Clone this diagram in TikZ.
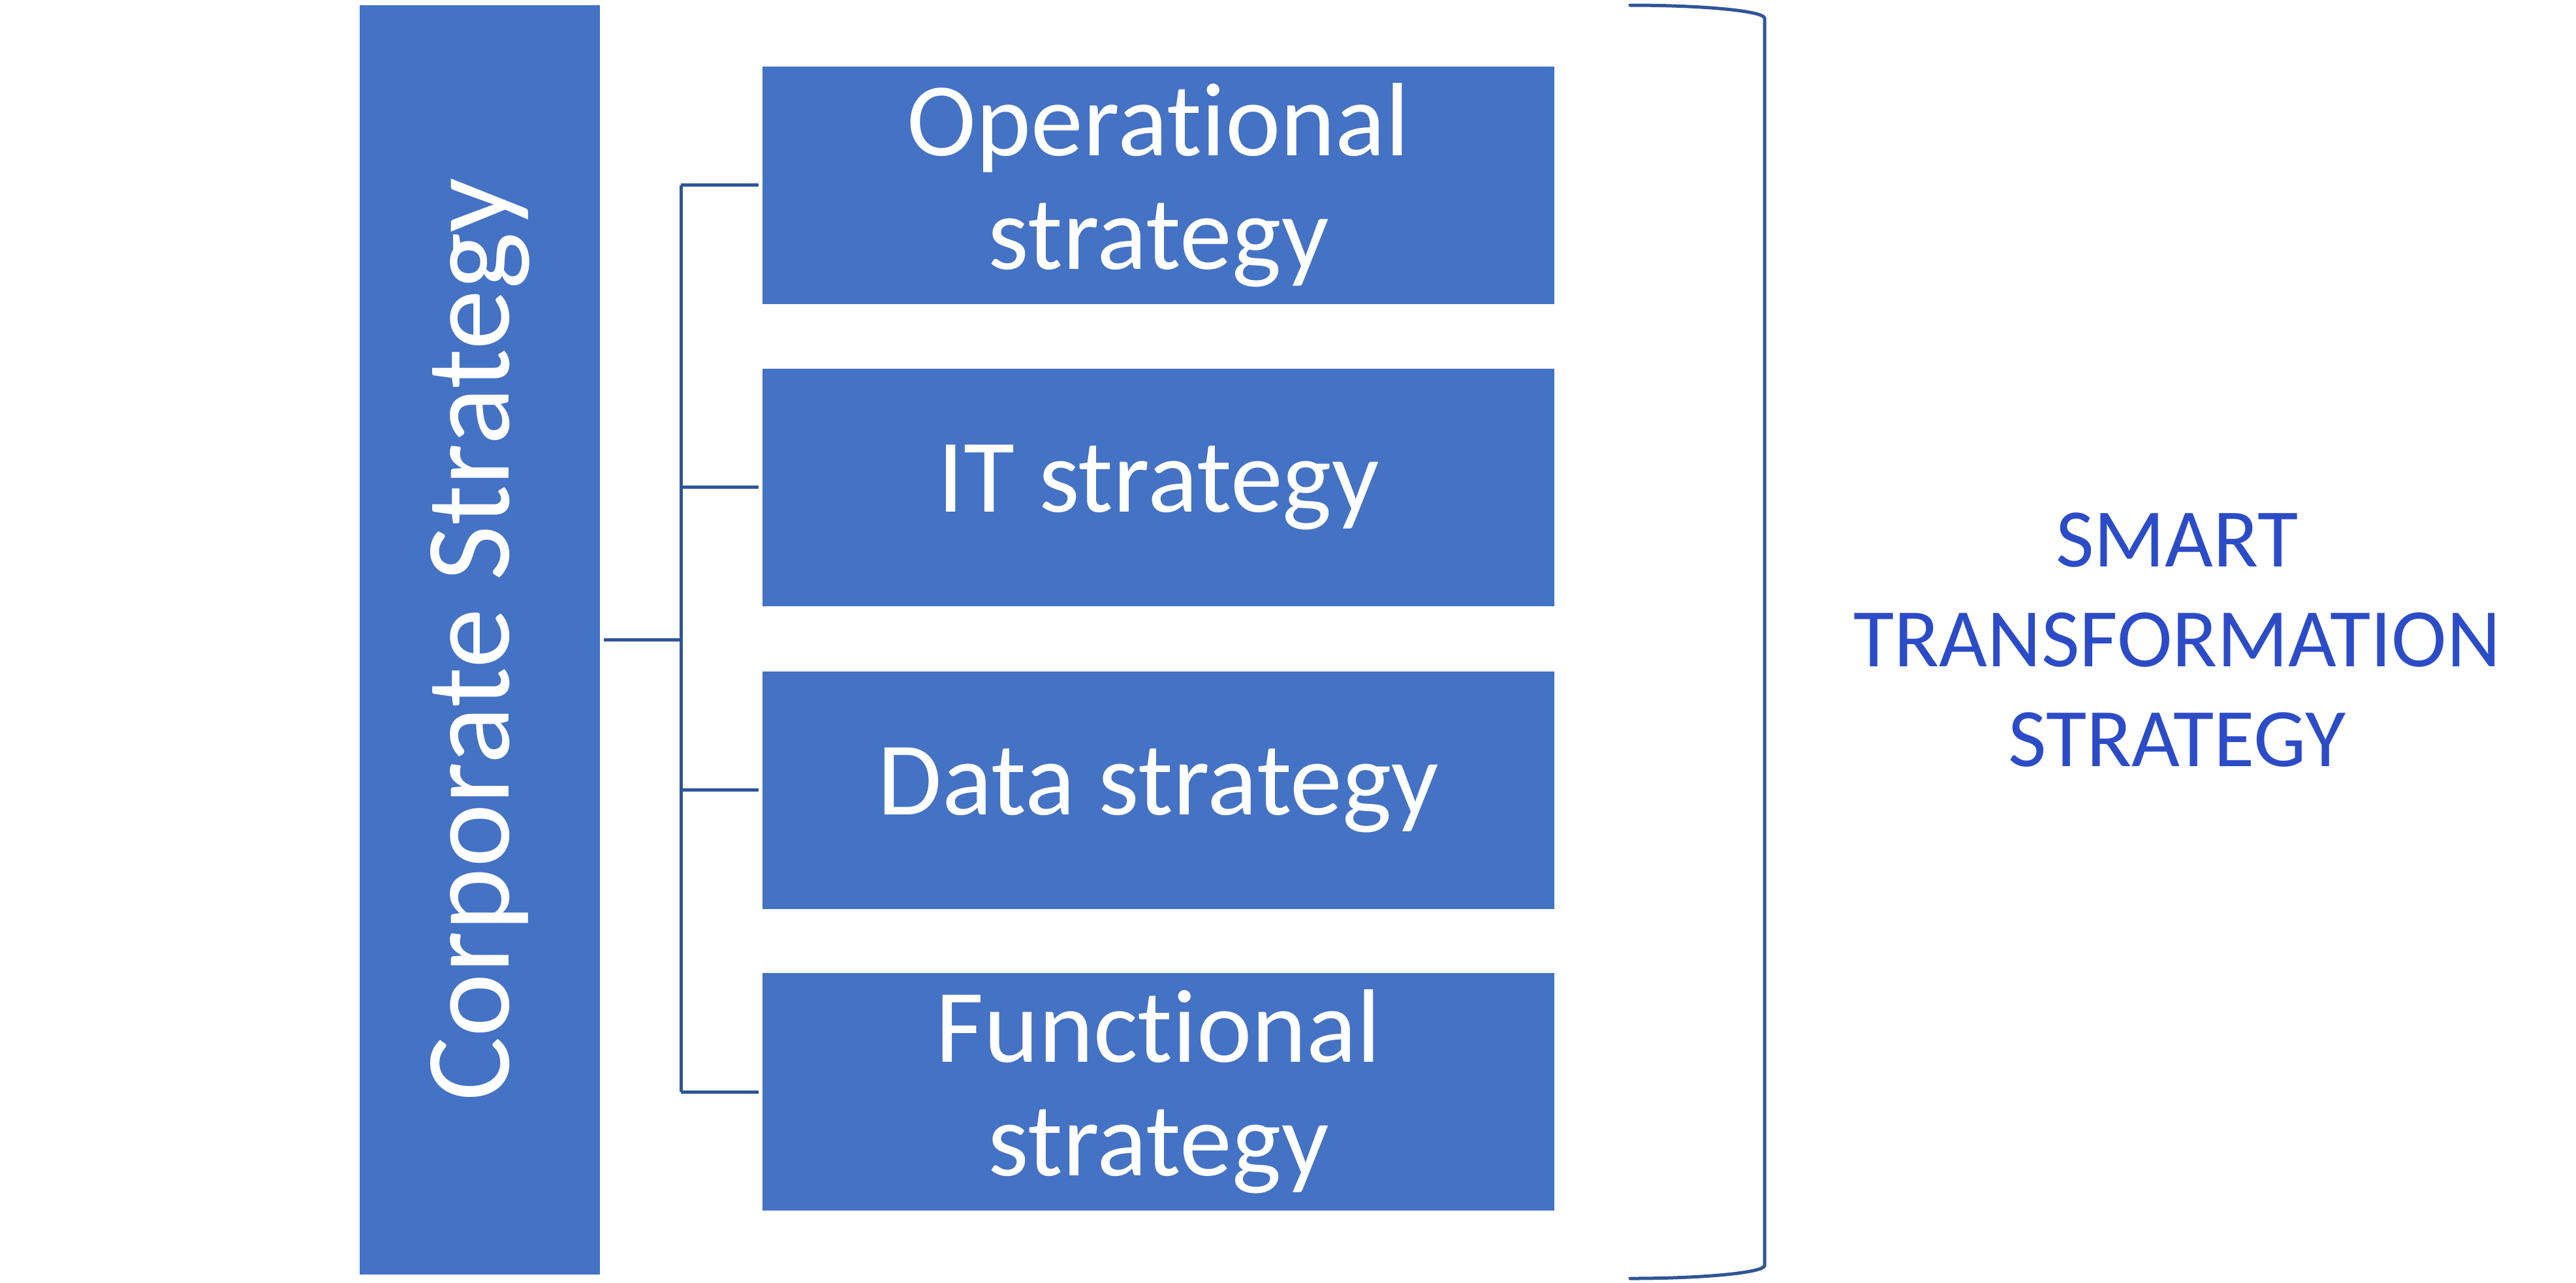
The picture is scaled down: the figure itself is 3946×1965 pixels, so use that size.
\documentclass[tikz,border=0pt]{standalone}
\usepackage{fontspec}
\setmainfont{Carlito}[Ligatures=NoCommon]
\definecolor{boxblue}{HTML}{4472C4}
\definecolor{lineblue}{HTML}{2F5597}
\definecolor{textblue}{RGB}{44,76,199}
\begin{document}
\begin{tikzpicture}[x=0.2pt,y=-0.2pt,
  box/.style={fill=boxblue, draw=none, inner sep=0pt, text=white,
    minimum width=242.6pt, minimum height=72.8pt, align=center,
    font=\fontsize{32pt}{34.8pt}\selectfont},
  corpbox/.style={fill=boxblue, draw=none, inner sep=0pt, text=white,
    minimum width=73.6pt, minimum height=389pt,
    font=\fontsize{37pt}{43pt}\selectfont},
  conn/.style={draw=lineblue, line width=1pt},
  bracketline/.style={draw=lineblue, line width=1pt, line cap=round},
  sidetext/.style={text=textblue, align=center, inner sep=0pt,
    font=\fontsize{25.5pt}{30.6pt}\selectfont}]
\useasboundingbox (0,0) rectangle (3946,1965);
\node[corpbox] (corp) at (735,980.5) {\rotatebox{90}{Corporate Strategy}};
\node[box] (op) at (1774.5,283.5) {Operational\\strategy};
\node[box] (it) at (1774.5,746.5) {IT strategy};
\node[box] (da) at (1774.5,1210.5) {Data strategy};
\node[box] (fn) at (1774.5,1673) {Functional\\strategy};
\coordinate (bx) at (1043,0);
\draw[conn, shorten <=1pt] (corp.east) -- (corp.east -| bx);
\draw[conn] (op.west -| bx) -- (fn.west -| bx);
\foreach \n in {op,it,da,fn}
  \draw[conn, shorten >=1pt] (\n.west -| bx) -- (\n.west);
\draw[bracketline] (2497,8) arc[start angle=90, end angle=0, x radius=41.2pt, y radius=4pt]
  -- (2703,1939) arc[start angle=0, end angle=-90, x radius=41.2pt, y radius=4pt];
\node[sidetext] (smart) at (3335,981) {SMART\\TRANSFORMATION\\STRATEGY};
\end{tikzpicture}
\end{document}
